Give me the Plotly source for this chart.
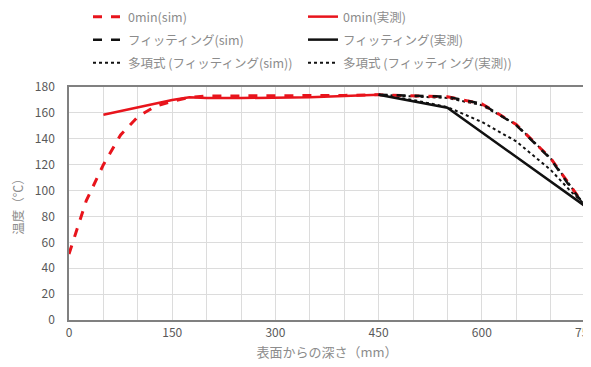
import plotly.graph_objects as go

# Data
sim0_x = [0, 25, 50, 75, 100, 125, 150, 175, 200, 250, 300, 350, 400, 450, 500, 550, 600, 650, 700, 725, 750]
sim0_y = [51, 92, 120, 143, 157, 165, 169, 172, 173, 173, 173, 173, 173.5, 174, 173, 172.5, 167, 151, 125, 106, 88]

meas0_x = [50, 100, 150, 175, 200, 250, 300, 350, 400, 450]
meas0_y = [158.5, 164, 170, 172, 171.5, 171.5, 171.5, 172, 173, 174]

fitsim_x = [450, 500, 550, 600, 650, 700, 725, 750]
fitsim_y = [174, 173, 172.5, 167, 150.5, 124.5, 105.5, 88]

fitmeas_x = [450, 550, 750]
fitmeas_y = [174, 164, 88]

polysim_x = [450, 500, 550, 600, 650, 700, 750]
polysim_y = [174, 173, 171.5, 166, 151, 125, 88]

polymeas_x = [450, 500, 550, 600, 650, 700, 730, 750]
polymeas_y = [174, 170, 164.5, 153, 138, 116, 99, 89]

x_ticks = [0, 150, 300, 450, 600, 750]

names = ["0min(sim)", "0min(実測)", "フィッティング(sim)", "フィッティング(実測)",
         "多項式 (フィッティング(sim))", "多項式 (フィッティング(実測))"]

RED = "#e8141c"
BLACK = "#111111"
FONT = "Noto Sans CJK JP"

# the page body adds an 8px offset, so the figure is sized to fit the rest
W, H = 583, 359

fig = go.Figure()
fig.add_trace(go.Scatter(x=polysim_x, y=polysim_y, mode="lines", name=names[4],
                         line=dict(color=BLACK, width=2, dash="dot"), legend="legend3"))
fig.add_trace(go.Scatter(x=polymeas_x, y=polymeas_y, mode="lines", name=names[5],
                         line=dict(color=BLACK, width=2, dash="dot"), legend="legend3"))
fig.add_trace(go.Scatter(x=meas0_x, y=meas0_y, mode="lines", name=names[1],
                         line=dict(color=RED, width=2.5), legend="legend"))
fig.add_trace(go.Scatter(x=sim0_x, y=sim0_y, mode="lines", name=names[0],
                         line=dict(color=RED, width=3, dash="dash"), legend="legend"))
fig.add_trace(go.Scatter(x=fitmeas_x, y=fitmeas_y, mode="lines", name=names[3],
                         line=dict(color=BLACK, width=2.5), legend="legend2"))
fig.add_trace(go.Scatter(x=fitsim_x, y=fitsim_y, mode="lines", name=names[2],
                         line=dict(color=BLACK, width=2.5, dash="dash"), legend="legend2"))

leg_common = dict(orientation="h", xref="container", yref="container", x=80 / W,
                  xanchor="left", yanchor="middle", entrywidth=170, entrywidthmode="pixels",
                  itemwidth=30, traceorder="reversed",
                  font=dict(family=FONT, size=12.5, color="#8c8c8c"), bgcolor="rgba(0,0,0,0)")

fig.update_layout(
    width=W, height=H,
    margin=dict(l=61, r=6, t=79, b=47, autoexpand=False),
    paper_bgcolor="white", plot_bgcolor="white",
    font=dict(family=FONT, size=12, color="#595959"),
    legend=dict(leg_common, y=1 - 9 / H),
    legend2=dict(leg_common, y=1 - 32 / H),
    legend3=dict(leg_common, y=1 - 55 / H, traceorder="normal"),
    xaxis=dict(range=[0, 750], tickvals=x_ticks, showgrid=True, gridcolor="#dcdcdc", gridwidth=1,
               minor=dict(dtick=50, showgrid=True, gridcolor="#dcdcdc", gridwidth=1),
               showline=True, linecolor="#808080", linewidth=1.5, mirror=True, ticks="",
               zeroline=False, automargin=False, ticklabelstandoff=1,
               ticklabeloverflow="allow",
               title=dict(text="表面からの深さ（mm）", font=dict(family=FONT, size=13, color="#8c8c8c"),
                          standoff=9),
               tickfont=dict(family=FONT, size=12, color="#595959")),
    yaxis=dict(range=[0, 180], dtick=20, showgrid=True, gridcolor="#dcdcdc", gridwidth=1,
               showline=True, linecolor="#808080", linewidth=1.5, mirror=True, ticks="",
               zeroline=False, automargin=False, ticklabelstandoff=10,
               title=dict(text="温度（℃）", font=dict(family=FONT, size=12.5, color="#8c8c8c"),
                          standoff=12),
               tickfont=dict(family=FONT, size=12, color="#595959")),
)

fig.write_html("out.html")
